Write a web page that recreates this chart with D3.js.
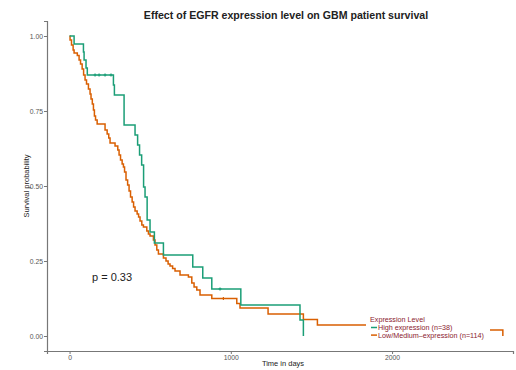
<!DOCTYPE html>
<html>
<head>
<meta charset="utf-8">
<script src="https://cdn.jsdelivr.net/npm/d3@7"></script>
<style>
body { margin: 0; background: #fff; }
text { font-family: "Liberation Sans", Arial, sans-serif; }
</style>
</head>
<body>
<script>
var width = 516;
var height = 370;

// Kaplan-Meier steps: day of event, survival after it
var highDays = [0, 28, 86, 90, 102, 110, 272, 278, 338, 406, 422, 434, 447, 459, 468, 481, 499, 526, 582, 764, 826, 882, 1062, 1429, 1450];
var highSurv = [1, 0.973, 0.947, 0.92, 0.893, 0.87, 0.837, 0.803, 0.703, 0.67, 0.637, 0.603, 0.57, 0.497, 0.463, 0.387, 0.347, 0.31, 0.27, 0.23, 0.193, 0.157, 0.103, 0.053, 0];
var highCensorDays = [158, 183, 220, 257, 933];
var highCensorSurv = [0.87, 0.87, 0.87, 0.87, 0.157];

var lowDays = [0, 3, 12, 22, 28, 48, 59, 68, 78, 87, 96, 105, 117, 127, 133, 141, 148, 154, 161, 171, 220, 233, 243, 251, 282, 299, 307, 316, 326, 334, 341, 350, 360, 369, 378, 388, 397, 406, 419, 428, 437, 448, 458, 479, 489, 499, 520, 530, 541, 551, 582, 598, 611, 623, 639, 654, 685, 737, 758, 772, 789, 809, 882, 1037, 1057, 1231, 1450, 1537, 2298, 2687];
var lowSurv = [1, 0.987, 0.97, 0.953, 0.943, 0.935, 0.92, 0.907, 0.89, 0.87, 0.853, 0.84, 0.823, 0.807, 0.79, 0.773, 0.753, 0.733, 0.72, 0.707, 0.687, 0.673, 0.66, 0.643, 0.633, 0.62, 0.603, 0.587, 0.573, 0.563, 0.547, 0.52, 0.503, 0.483, 0.463, 0.447, 0.43, 0.417, 0.407, 0.397, 0.383, 0.37, 0.363, 0.35, 0.34, 0.333, 0.32, 0.303, 0.287, 0.273, 0.26, 0.25, 0.24, 0.233, 0.225, 0.217, 0.203, 0.197, 0.177, 0.163, 0.153, 0.137, 0.125, 0.108, 0.093, 0.073, 0.055, 0.037, 0.02, 0];
var lowCensorDays = [954];
var lowCensorSurv = [0.125];

var xTicks = [0, 1000, 2000];
var yTicks = [0, 0.25, 0.5, 0.75, 1];
var groupNames = ["High expression (n=38)", "Low/Medium\u2013expression (n=114)"];
var groupColors = ["#1b9e77", "#d95f02"];

var x = d3.scaleLinear().domain([-140, 2750]).range([47, 513]);
var y = d3.scaleLinear().domain([-0.05, 1.05]).range([351, 21]);

var svg = d3.select("body").append("svg").attr("width", width).attr("height", height);

// title
svg.append("text")
    .attr("x", 286).attr("y", 19)
    .attr("text-anchor", "middle")
    .style("font-size", "10.6px").style("font-weight", "bold").style("fill", "#222")
    .text("Effect of EGFR expression level on GBM patient survival");

// axes
var yAxis = svg.append("g").attr("transform", "translate(47,0)")
    .call(d3.axisLeft(y).tickValues(yTicks).tickFormat(d3.format(".2f")).tickSize(3).tickPadding(1));
var xAxis = svg.append("g").attr("transform", "translate(0,351)")
    .call(d3.axisBottom(x).tickValues(xTicks).tickFormat(d3.format("d")).tickSize(3).tickPadding(1));
[xAxis, yAxis].forEach(function (a) {
    a.select(".domain").attr("stroke", "#777").attr("stroke-width", 1.2);
    a.selectAll(".tick line").attr("stroke", "#777");
    a.selectAll(".tick text").style("font-size", "6.8px").style("fill", "#555")
        .style("font-family", "'Liberation Sans', Arial, sans-serif");
});

svg.append("text")
    .attr("transform", "translate(29,186) rotate(-90)")
    .attr("text-anchor", "middle")
    .style("font-size", "7.5px").style("fill", "#222")
    .text("Survival probability");
svg.append("text")
    .attr("x", 283).attr("y", 366)
    .attr("text-anchor", "middle")
    .style("font-size", "7.5px").style("fill", "#222")
    .text("Time in days");

// curves
var line = d3.line()
    .x(function (d) { return x(d[0]); })
    .y(function (d) { return y(d[1]); })
    .curve(d3.curveStepAfter);

var series = [
    {days: highDays, surv: highSurv, cd: highCensorDays, cs: highCensorSurv, color: groupColors[0]},
    {days: lowDays, surv: lowSurv, cd: lowCensorDays, cs: lowCensorSurv, color: groupColors[1]}
];

// draw low first so high sits on top like the picture
series.slice().reverse().forEach(function (s) {
    var pts = s.days.map(function (d, i) { return [d, s.surv[i]]; });
    svg.append("path")
        .attr("d", line(pts))
        .attr("fill", "none")
        .attr("stroke", s.color)
        .attr("stroke-width", 1.5);
    svg.selectAll(null)
        .data(s.cd.map(function (d, i) { return [d, s.cs[i]]; }))
        .enter()
        .append("path")
        .attr("d", function (d) {
            var cx = x(d[0]), cy = y(d[1]);
            return "M" + (cx - 1.5) + "," + cy + "H" + (cx + 1.5) + "M" + cx + "," + (cy - 1.5) + "V" + (cy + 1.5);
        })
        .attr("stroke", s.color)
        .attr("stroke-width", 1.2);
});

// p value
svg.append("text")
    .attr("x", 92).attr("y", 281)
    .style("font-size", "11px").style("fill", "#222")
    .text("p = 0.33");

// legend
var legend = svg.append("g").attr("transform", "translate(366,312)");
legend.append("rect").attr("width", 124).attr("height", 28).attr("fill", "#fff");
legend.append("text")
    .attr("x", 4).attr("y", 10)
    .style("font-size", "7.2px").style("fill", "#8b1a2e")
    .text("Expression Level");
groupNames.forEach(function (name, i) {
    var g = legend.append("g").attr("transform", "translate(0," + (15.5 + i * 7.6) + ")");
    g.append("line")
        .attr("x1", 5).attr("x2", 11)
        .attr("y1", 0).attr("y2", 0)
        .attr("stroke", groupColors[i]).attr("stroke-width", 1.5);
    g.append("text")
        .attr("x", 12).attr("y", 2.5)
        .style("font-size", "7.2px").style("fill", "#8b1a2e")
        .text(name);
});
</script>
</body>
</html>
